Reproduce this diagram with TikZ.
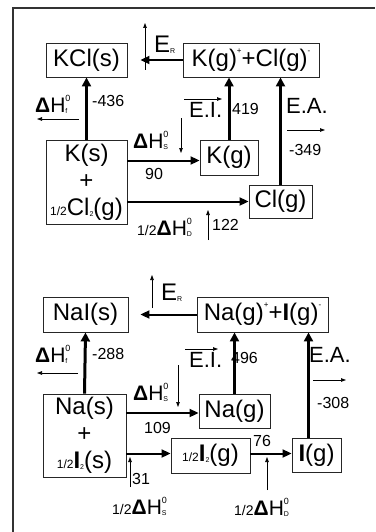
\documentclass[tikz,border=0pt]{standalone}
\usepackage{fontspec}
\setmainfont{Liberation Sans}
\usetikzlibrary{arrows.meta,calc}

\newcommand{\boxfont}{\fontsize{24}{27}\selectfont}
\newcommand{\numfont}{\fontsize{16}{18}\selectfont}
\newcommand{\eafont}{\fontsize{22}{24}\selectfont}
\newcommand{\dhfont}{\fontsize{21}{23}\selectfont}
\newcommand{\halfof}{{\fontsize{12}{12}\selectfont 1/2}}
\newcommand{\halflbl}{{\fontsize{14}{14}\selectfont 1/2}}
\newcommand{\supx}[1]{\raisebox{13pt}{\fontsize{8}{8}\selectfont #1}}
\newcommand{\subx}[1]{\raisebox{-1pt}{\fontsize{7}{7}\selectfont #1}}
\newcommand{\dHo}[1]{\textbf{Δ}H\rlap{\raisebox{-1pt}{\fontsize{7}{7}\selectfont #1}}\raisebox{11pt}{\fontsize{9}{9}\selectfont 0}}
\newcommand{\Er}{E\raisebox{-1pt}{\fontsize{7}{7}\selectfont R}}

\tikzset{
  box/.style={draw=black!85, line width=0.9pt, inner sep=0pt, font=\boxfont},
  bigarrow/.style={line width=3pt, -{Triangle[length=9pt,width=9pt]}},
  midarrow/.style={line width=2pt, -{Triangle[length=9pt,width=8pt]}},
  tinyarrow/.style={line width=0.7pt, -{Triangle[length=5pt,width=3.5pt]}},
  lbl/.style={anchor=west, inner sep=0pt},
}

\begin{document}
\begin{tikzpicture}[x=1pt, y=-1pt]
    \useasboundingbox (0,0) rectangle (375,532);
    % Frame
    \draw[line width=2.5pt, black!80] (13,534) -- (13,8) -- (375,8);

    % KCl cycle
    \node[box, minimum width=81pt, minimum height=34pt] (KCl) at (86.5,60) {KCl(s)};
    \node[box, minimum width=136pt, minimum height=34pt] (KgClg) at (251,60) {K(g)\supx{+}+Cl(g)\supx{-}};
    \node[box, minimum width=81pt, minimum height=84pt, align=center] (Ks) at (86.5,182) {K(s)\\+\\\halfof Cl\subx{2}(g)};
    \node[box, minimum width=58pt, minimum height=35pt] (Kg) at (229,157.5) {K(g)};
    \node[box, minimum width=63pt, minimum height=33pt] (Clg) at (280.5,201.5) {Cl(g)};

    \draw[midarrow, shorten >=13pt] (KgClg) -- (KCl);
    \draw[bigarrow] (Ks.north) -- (KCl.south);
    \draw[bigarrow] (Kg.north) -- (Kg.north |- KgClg.south);
    \draw[bigarrow] (Clg.north) -- (Clg.north |- KgClg.south);
    \draw[midarrow] ($(Ks.east |- Kg.west)+(0,3)$) -- ($(Kg.west)+(0,3)$);
    \draw[midarrow] (Ks.east |- Clg.west) -- (Clg.west);

    % KCl labels
    \node[lbl, font=\boxfont] (erK) at (154,45) {\Er};
    \draw[tinyarrow] (145,70) -- (145,23);
    \node[lbl, font=\dhfont] (hfK) at (35,104) {\dHo{f}};
    \draw[tinyarrow] (79,119) -- (37,119);
    \node[lbl, font=\numfont] (vfK) at (92,101) {-436};
    \node[lbl, font=\eafont] (eiK) at (189,110) {E.I.};
    \draw[tinyarrow] (184,99) -- (222,99);
    \node[lbl, font=\numfont] (viK) at (232,109) {419};
    \node[lbl, font=\eafont] (eaK) at (286,106) {E.A.};
    \draw[tinyarrow] (287,130) -- (325,130);
    \node[lbl, font=\numfont] (vaK) at (289,150) {-349};
    \node[lbl, font=\dhfont] (hsK) at (133,140) {\dHo{S}};
    \draw[tinyarrow] (181,118) -- (181,153);
    \node[lbl, font=\numfont] (vsK) at (145,174) {90};
    \node[lbl, font=\dhfont] (hdK) at (137,227) {\halflbl\dHo{D}};
    \draw[tinyarrow] (208,240) -- (208,210);
    \node[lbl, font=\numfont] (vdK) at (212,225) {122};

    % NaI cycle
    \node[box, minimum width=85pt, minimum height=35pt] (NaI) at (85.5,314.5) {NaI(s)};
    \node[box, minimum width=131pt, minimum height=35pt] (NagIg) at (262.5,314.5) {Na(g)\supx{+}+\textbf{I}(g)\supx{-}};
    \node[box, minimum width=83pt, minimum height=83pt, align=center] (Nas) at (84.5,435.5) {Na(s)\\+\\\halfof\textbf{I}\subx{2}(s)};
    \node[box, minimum width=71pt, minimum height=34pt] (Nag) at (234.5,411) {Na(g)};
    \node[box, minimum width=79pt, minimum height=35pt] (Itg) at (210.5,455.5) {\halfof\textbf{I}\subx{2}(g)};
    \node[box, minimum width=49pt, minimum height=34pt] (Ig) at (316.5,455) {\textbf{I}(g)};

    \draw[midarrow, shorten >=12pt] (NagIg) -- (NaI);
    \draw[bigarrow] (Nas.north) -- (NaI.south);
    \draw[bigarrow] (Nag.north) -- (Nag.north |- NagIg.south);
    \draw[bigarrow] ($(Ig.north)+(-8,0)$) -- ($(Ig.north |- NagIg.south)+(-8,0)$);
    \draw[midarrow] ($(Nas.east |- Nag.west)+(0,2)$) -- ($(Nag.west)+(0,2)$);
    \draw[midarrow] ($(Nas.east |- Itg.west)+(0,-2)$) -- ($(Itg.west)+(0,-2)$);
    \draw[midarrow] ($(Itg.east)+(0,-2)$) -- ($(Itg.east -| Ig.west)+(0,-2)$);

    % NaI labels
    \node[lbl, font=\boxfont] (erNa) at (161,293) {\Er};
    \draw[tinyarrow] (152,308) -- (152,275);
    \node[lbl, font=\dhfont] (hfNa) at (35,354) {\dHo{f}};
    \draw[tinyarrow] (78,373) -- (37,373);
    \node[lbl, font=\numfont] (vfNa) at (92,354) {-288};
    \node[lbl, font=\eafont] (eiNa) at (189,360) {E.I.};
    \draw[tinyarrow] (185,349) -- (218,349);
    \node[lbl, font=\numfont] (viNa) at (231,358) {496};
    \node[lbl, font=\eafont] (eaNa) at (309,355) {E.A.};
    \draw[tinyarrow] (313,380) -- (346,380);
    \node[lbl, font=\numfont] (vaNa) at (317,403) {-308};
    \node[lbl, font=\dhfont] (hsNa) at (133,392) {\dHo{S}};
    \draw[tinyarrow] (178,365) -- (178,407);
    \node[lbl, font=\numfont] (vsNa) at (144,428) {109};
    \node[lbl, font=\numfont] (vdNa) at (253,441) {76};
    \draw[tinyarrow] (130,487) -- (130,457);
    \node[lbl, font=\numfont] (viNa2) at (132,479) {31};
    \node[lbl, font=\dhfont] (hiNa) at (112,506) {\halflbl\dHo{S}};
    \draw[tinyarrow] (267,490) -- (267,457);
    \node[lbl, font=\dhfont] (hdNa) at (234,507) {\halflbl\dHo{D}};
\end{tikzpicture}
\end{document}
